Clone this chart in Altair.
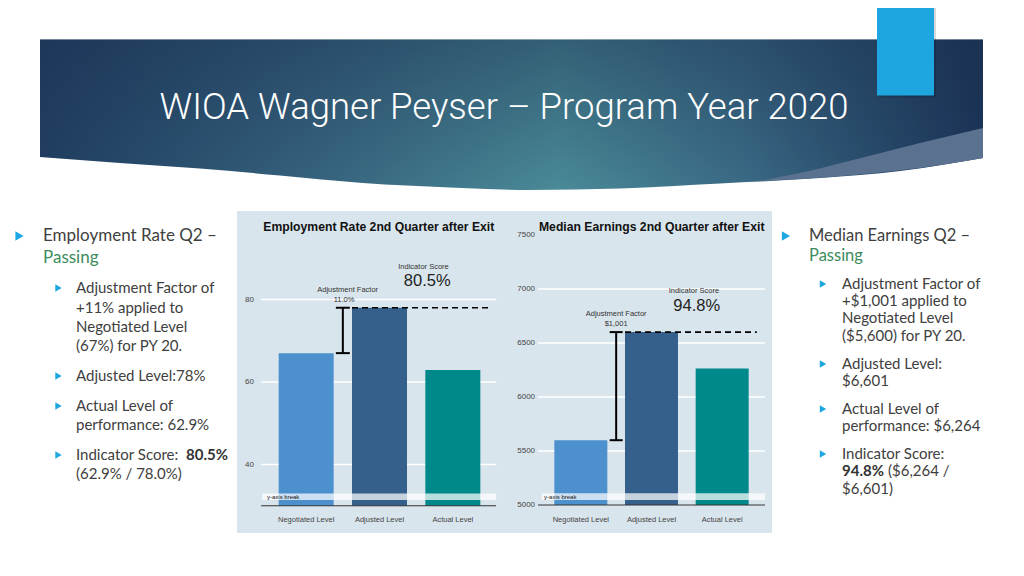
import altair as alt
import pandas as pd

# ---------------- data ----------------
CATEGORIES = ["Negotiated Level", "Adjusted Level", "Actual Level"]
EMP_VALUES = [67.0, 78.0, 62.9]
EARN_VALUES = [5600, 6601, 6264]
EMP_TICKS = [40, 60, 80]
EMP_GRID = [40, 60, 80]
EARN_TICKS = [5000, 5500, 6000, 6500, 7000, 7500]
EARN_GRID = [5500, 6000, 6500, 7000]
EMP_TITLE = "Employment Rate 2nd Quarter after Exit"
EARN_TITLE = "Median Earnings 2nd Quarter after Exit"
EMP_ADJ = ["Adjustment Factor", "11.0%"]
EARN_ADJ = ["Adjustment Factor", "$1,001"]
SCORE_LABEL = "Indicator Score"
EMP_SCORE = "80.5%"
EARN_SCORE = "94.8%"
BREAK_LABEL = "y-axis break"
SLIDE_TITLE = "WIOA Wagner Peyser – Program Year 2020"
LEFT_HEAD = ["Employment Rate Q2 –", "Passing"]
LEFT_LINES = ["Adjustment Factor of", "+11% applied to", "Negotiated Level",
              "(67%) for PY 20.", "Adjusted Level:78%", "Actual Level of",
              "performance: 62.9%", "Indicator Score:", "(62.9% / 78.0%)"]
LEFT_BOLD = "80.5%"
RIGHT_HEAD = ["Median Earnings Q2 –", "Passing"]
RIGHT_LINES = ["Adjustment Factor of", "+$1,001 applied to", "Negotiated Level",
               "($5,600) for PY 20.", "Adjusted Level:", "$6,601", "Actual Level of",
               "performance: $6,264", "Indicator Score:", "($6,264 /", "$6,601)"]
RIGHT_BOLD = "94.8%"

# ---------------- styles / layout ----------------
BAR_COLORS = ["#4c91cd", "#35608b", "#00898a"]
PANEL_BG = "#d9e5ec"
TEXT_GRAY = "#404040"
GREEN = "#3c8b5d"
BULLET = "#1ea6e0"
SLIDE_FONT = "Lato"
CHART_FONT = "Liberation Sans"

O = 8.0


def p(v):
    return v - O


def PX(f):
    return alt.X(f, type="quantitative", scale=None, axis=None)


def PY(f):
    return alt.Y(f, type="quantitative", scale=None, axis=None)


layers = []

# chart panel background
layers.append(alt.Chart(pd.DataFrame({"a": [p(237)], "b": [p(772)], "c": [p(211)], "d": [p(533)]}))
              .mark_rect(color=PANEL_BG).encode(x=PX("a"), x2="b", y=PY("c"), y2="d"))

# banner
BANNER_X = [40, 120, 200, 280, 363, 450, 530, 620, 720, 820, 900, 983]
BANNER_BOT = [157, 163, 168.5, 175.5, 183, 187.5, 190, 188.5, 183.5, 178, 171, 158]
banner_df = pd.DataFrame({"x": [p(v) for v in BANNER_X], "top": p(39.5),
                          "bot": [p(v) for v in BANNER_BOT]})
H_GRAD = {"gradient": "linear", "x1": 0, "y1": 0, "x2": 1, "y2": 0,
          "stops": [{"offset": 0, "color": "#213f62"},
                    {"offset": 0.3, "color": "#37657f"},
                    {"offset": 0.55, "color": "#4a8a97"},
                    {"offset": 0.75, "color": "#3a6a85"},
                    {"offset": 1, "color": "#1b3457"}]}
V_GRAD = {"gradient": "linear", "x1": 0, "y1": 0, "x2": 0, "y2": 1,
          "stops": [{"offset": 0, "color": "rgba(24,45,78,0.45)"},
                    {"offset": 1, "color": "rgba(24,45,78,0)"}]}
layers.append(alt.Chart(banner_df).mark_area(interpolate="monotone", color=H_GRAD)
              .encode(x=PX("x"), y=PY("top"), y2="bot"))
layers.append(alt.Chart(banner_df).mark_area(interpolate="monotone", color=V_GRAD)
              .encode(x=PX("x"), y=PY("top"), y2="bot"))
WEDGE_X = [753, 800, 853, 920, 983]
WEDGE_TOP = [182, 173, 160, 143, 128]
WEDGE_BOT = [181.5, 179, 175, 168, 158]
layers.append(alt.Chart(pd.DataFrame({"x": [p(v) for v in WEDGE_X], "t": [p(v) for v in WEDGE_TOP],
                                      "b": [p(v) for v in WEDGE_BOT]}))
              .mark_area(interpolate="monotone", color="#5a7290")
              .encode(x=PX("x"), y=PY("t"), y2="b"))

# accent rectangle
layers.append(alt.Chart(pd.DataFrame({"a": [p(879)], "b": [p(936)], "c": [p(0)], "d": [p(97.5)]}))
              .mark_rect(color="#000000", opacity=0.15).encode(x=PX("a"), x2="b", y=PY("c"), y2="d"))
layers.append(alt.Chart(pd.DataFrame({"a": [p(877)], "b": [p(934)], "c": [p(0)], "d": [p(95.5)]}))
              .mark_rect(color=BULLET).encode(x=PX("a"), x2="b", y=PY("c"), y2="d"))

# slide title
layers.append(alt.Chart(pd.DataFrame({"x": [p(504)], "y": [p(108)], "t": [SLIDE_TITLE]}))
              .mark_text(font="Roboto", fontSize=36.5, fontWeight=300, color="white",
                         align="center", baseline="middle")
              .encode(x=PX("x"), y=PY("y"), text="t:N"))


def panel(values, xs, ys, base, grid, gx, ticks, tick_x, strip_x, strip_y, brk_xy,
          title, title_xy, cat_y, adj, adj_x, adj_y, cap, dash_end, score, score_x, score_y):
    out = []
    X = lambda f: alt.X(f, type="quantitative", scale=xs, axis=None)
    Y = lambda f: alt.Y(f, type="quantitative", scale=ys, axis=None)
    # gridlines
    out.append(alt.Chart(pd.DataFrame({"v": grid, "a": gx[0], "b": gx[1]}))
               .mark_rule(color="white", strokeWidth=1.3)
               .encode(x=X("a"), x2="b", y=Y("v")))
    # tick labels
    out.append(alt.Chart(pd.DataFrame({"v": ticks, "lab": [str(t) for t in ticks], "x": tick_x}))
               .mark_text(align="left", baseline="middle", fontSize=8, font=CHART_FONT, color="#444444")
               .encode(x=X("x"), y=Y("v"), text="lab:N"))
    # bars
    bars = pd.DataFrame({"cat": CATEGORIES, "v": values, "i": [0, 1, 2]})
    bars["x0"] = bars["i"] + 0.125
    bars["x1"] = bars["i"] + 0.875
    bars["base"] = base
    out.append(alt.Chart(bars).mark_rect()
               .encode(x=X("x0"), x2="x1", y=Y("v"), y2="base",
                       color=alt.Color("cat:N", scale=alt.Scale(domain=CATEGORIES, range=BAR_COLORS),
                                       legend=None)))
    # axis break strip
    out.append(alt.Chart(pd.DataFrame({"a": [strip_x[0]], "b": [strip_x[1]],
                                       "c": [strip_y[0]], "d": [strip_y[1]]}))
               .mark_rect(color="white", opacity=0.72)
               .encode(x=X("a"), x2="b", y=Y("c"), y2="d"))
    out.append(alt.Chart(pd.DataFrame({"x": [brk_xy[0]], "y": [brk_xy[1]], "t": [BREAK_LABEL]}))
               .mark_text(align="left", baseline="middle", fontSize=6, font=CHART_FONT, color="#111111")
               .encode(x=X("x"), y=Y("y"), text="t:N"))
    # domain line
    out.append(alt.Chart(pd.DataFrame({"v": [base], "a": [gx[0]], "b": [gx[1]]}))
               .mark_rule(color="#333333", strokeWidth=1)
               .encode(x=X("a"), x2="b", y=Y("v")))
    # category labels
    out.append(alt.Chart(pd.DataFrame({"x": [0.5, 1.5, 2.5], "y": cat_y, "t": CATEGORIES}))
               .mark_text(align="center", baseline="middle", fontSize=7.5, font=CHART_FONT, color="#444444")
               .encode(x=X("x"), y=Y("y"), text="t:N"))
    # title
    out.append(alt.Chart(pd.DataFrame({"x": [title_xy[0]], "y": [title_xy[1]], "t": [title]}))
               .mark_text(align="center", baseline="middle", fontSize=12.2, fontWeight="bold",
                          font=CHART_FONT, color="#111111")
               .encode(x=X("x"), y=Y("y"), text="t:N"))
    # adjustment error bar
    out.append(alt.Chart(pd.DataFrame({"x": [1.0], "lo": [values[0]], "hi": [values[1]]}))
               .mark_rule(color="black", strokeWidth=2)
               .encode(x=X("x"), y=Y("lo"), y2="hi"))
    out.append(alt.Chart(pd.DataFrame({"a": 1 - cap, "b": 1 + cap, "v": [values[0], values[1]]}))
               .mark_rule(color="black", strokeWidth=2)
               .encode(x=X("a"), x2="b", y=Y("v")))
    # dashed adjusted level line
    out.append(alt.Chart(pd.DataFrame({"a": [1.125], "b": [dash_end], "v": [values[1]]}))
               .mark_rule(color="black", strokeWidth=1.6, strokeDash=[6, 4])
               .encode(x=X("a"), x2="b", y=Y("v")))
    # annotations
    out.append(alt.Chart(pd.DataFrame({"x": adj_x, "y": adj_y, "t": adj}))
               .mark_text(align="center", baseline="middle", fontSize=7.5, font=CHART_FONT, color="#333333")
               .encode(x=X("x"), y=Y("y"), text="t:N"))
    out.append(alt.Chart(pd.DataFrame({"x": [score_x[0]], "y": [score_y[0]], "t": [SCORE_LABEL]}))
               .mark_text(align="center", baseline="middle", fontSize=7.5, font=CHART_FONT, color="#333333")
               .encode(x=X("x"), y=Y("y"), text="t:N"))
    out.append(alt.Chart(pd.DataFrame({"x": [score_x[1]], "y": [score_y[1]], "t": [score]}))
               .mark_text(align="center", baseline="middle", fontSize=16.5, font=CHART_FONT, color="#222222")
               .encode(x=X("x"), y=Y("y"), text="t:N"))
    return out


xs1 = alt.Scale(domain=[0, 3], range=[p(269.5), p(489.5)], nice=False, zero=False)
ys1 = alt.Scale(domain=[30, 80], range=[p(505.75), p(299.5)], nice=False, zero=False)
layers += panel(EMP_VALUES, xs1, ys1, 30, EMP_GRID, (-0.115, 3.09), EMP_TICKS, -0.334,
                (-0.10, 3.09), (31.4, 33.0), (-0.034, 32.2),
                EMP_TITLE, (1.49, 97.6), 26.5, EMP_ADJ, [1.066, 1.016], [82.3, 79.9], 0.095, 3.02,
                EMP_SCORE, [2.10, 2.15], [87.95, 84.5])

xs2 = alt.Scale(domain=[0, 3], range=[p(545.5), p(757.5)], nice=False, zero=False)
ys2 = alt.Scale(domain=[5000, 7500], range=[p(505), p(235)], nice=False, zero=False)
layers += panel(EARN_VALUES, xs2, ys2, 5000, EARN_GRID, (-0.106, 3.106), EARN_TICKS, -0.40,
                (-0.054, 3.106), (5046, 5108), (-0.02, 5077),
                EARN_TITLE, (1.503, 7572), 4861, EARN_ADJ, [1.0, 1.0], [6768, 6673], 0.092, 2.99,
                EARN_SCORE, [2.10, 2.14], [6984, 6845])

# ---------------- slide text ----------------
def tri(xs, ys, size):
    return (alt.Chart(pd.DataFrame({"x": [p(v) for v in xs], "y": [p(v) for v in ys]}))
            .mark_point(shape="triangle-right", filled=True, size=size, color=BULLET, opacity=1)
            .encode(x=PX("x"), y=PY("y")))


def lines(texts, xs, ys, size, color, weight="normal"):
    return (alt.Chart(pd.DataFrame({"t": texts, "x": [p(v) for v in xs], "y": [p(v) for v in ys]}))
            .mark_text(align="left", baseline="middle", font=SLIDE_FONT, fontSize=size,
                       fontWeight=weight, color=color)
            .encode(x=PX("x"), y=PY("y"), text="t:N"))


LEFT_Y = [288, 308, 327, 346, 376, 406, 425, 455, 474]
RIGHT_Y = [284, 301, 318, 336, 364, 381, 409, 426, 454, 471, 489]
RIGHT_X = [842] * 9 + [888, 842]

layers.append(tri([19.5, 786], [236, 236], 90))
layers.append(tri([58.5] * 4 + [823] * 4, [288, 376, 406, 455, 284, 364, 409, 454], 55))
layers.append(lines([LEFT_HEAD[0]], [43], [236], 17, TEXT_GRAY))
layers.append(lines([LEFT_HEAD[1]], [43], [258], 17, GREEN))
layers.append(lines([RIGHT_HEAD[0]], [809], [235.5], 16.5, TEXT_GRAY))
layers.append(lines([RIGHT_HEAD[1]], [809], [255.5], 16.5, GREEN))
layers.append(lines(LEFT_LINES, [76] * len(LEFT_LINES), LEFT_Y, 15, TEXT_GRAY))
layers.append(lines(RIGHT_LINES, RIGHT_X, RIGHT_Y, 15, TEXT_GRAY))
layers.append(lines([LEFT_BOLD], [186], [455], 15, "#333333", "bold"))
layers.append(lines([RIGHT_BOLD], [842], [471], 15, "#333333", "bold"))

chart = (alt.layer(*layers)
         .resolve_scale(x="independent", y="independent")
         .properties(width=1008, height=560, autosize="none", padding=0, background="white")
         .configure_view(strokeWidth=0))

chart.save("out.html", embed_options={"renderer": "svg", "actions": False})
